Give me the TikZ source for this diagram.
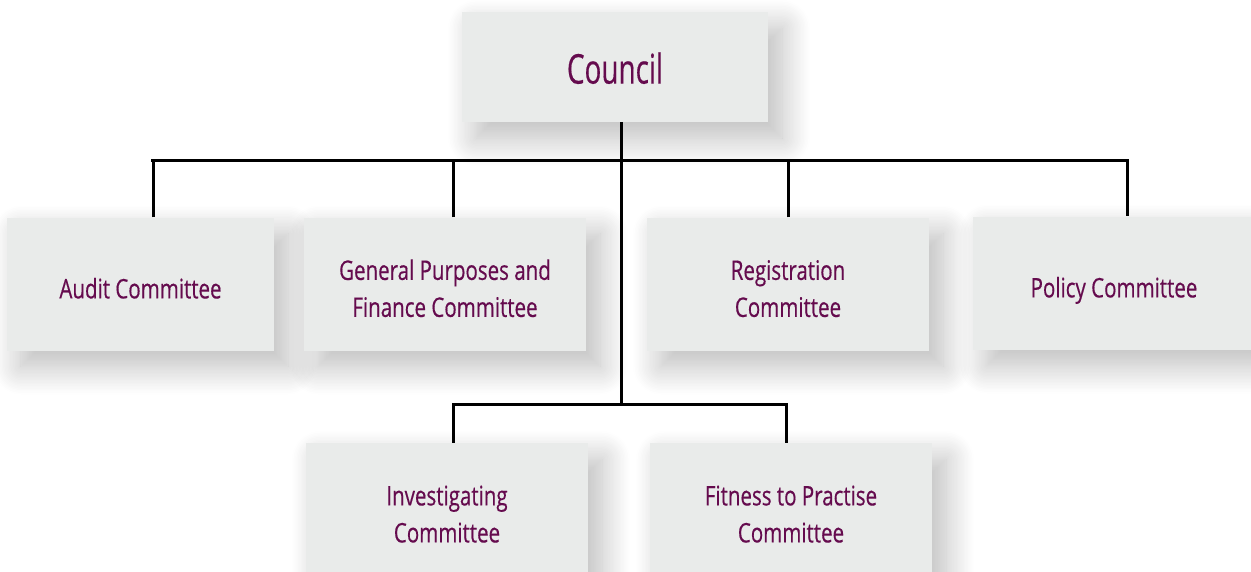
\documentclass[tikz,border=0pt]{standalone}
\usepackage{fontspec}
\setmainfont{Open Sans}[FakeStretch=0.76,FakeBold=0.4]
\newfontfamily\councilfont{Open Sans}[FakeStretch=0.68,FakeBold=0.4]
\usetikzlibrary{shadows.blur}
\definecolor{boxfill}{HTML}{E9EBEA}
\definecolor{txt}{HTML}{650B4E}
\newcommand\dn[1]{\raisebox{0pt}[\dimexpr\height+14pt\relax][\depth]{\begin{tabular}{@{}c@{}}#1\end{tabular}}}
\begin{document}
\begin{tikzpicture}[x=1pt,y=-1pt,
  box/.style={fill=boxfill, draw=none, inner sep=0pt, align=center, text=txt,
    minimum width=282pt, minimum height=133pt,
    font=\fontsize{27}{37}\selectfont,
    blur shadow={shadow xshift=14pt, shadow yshift=-16pt, shadow blur radius=28pt, shadow blur steps=20, shadow opacity=27}},
  conn/.style={draw=black, line width=3pt}]
\useasboundingbox (0,0) rectangle (1251,571);
\node[box, minimum width=306pt, minimum height=110pt, font=\councilfont\fontsize{41}{48}\selectfont] (council) at (615,67) {\dn{Council}};
\node[box, minimum width=267pt] (audit) at (140.5,284) {\dn{Audit Committee}};
\node[box] (gp) at (445,284) {\dn{General Purposes and\\Finance Committee}};
\node[box] (reg) at (788,284) {\dn{Registration\\Committee}};
\node[box] (policy) at (1114,283) {\dn{Policy Committee}};
\node[box] (inv) at (447,509.5) {\dn{Investigating\\Committee}};
\node[box] (fit) at (791,509.5) {\dn{Fitness to Practise\\Committee}};
\coordinate (hl) at (151,160);
\coordinate (hr) at (1127,160);
\coordinate (stem) at (621,160);
\coordinate (ll) at (453,404);
\coordinate (lr) at (786,404);
\coordinate (lm) at (621,404);
\draw[conn] (audit.north -| 153,0) -- (153,160) -- (hl) -- (hr) -- (policy.north -| hr);
\draw[conn] (gp.north -| 453,0) -- (453,160);
\draw[conn] (reg.north -| 788,0) -- (788,160);
\draw[conn] (council.south -| stem) -- (lm);
\draw[conn] (inv.north -| ll) -- (ll) -- (lr) -- (fit.north -| lr);
\end{tikzpicture}
\end{document}
